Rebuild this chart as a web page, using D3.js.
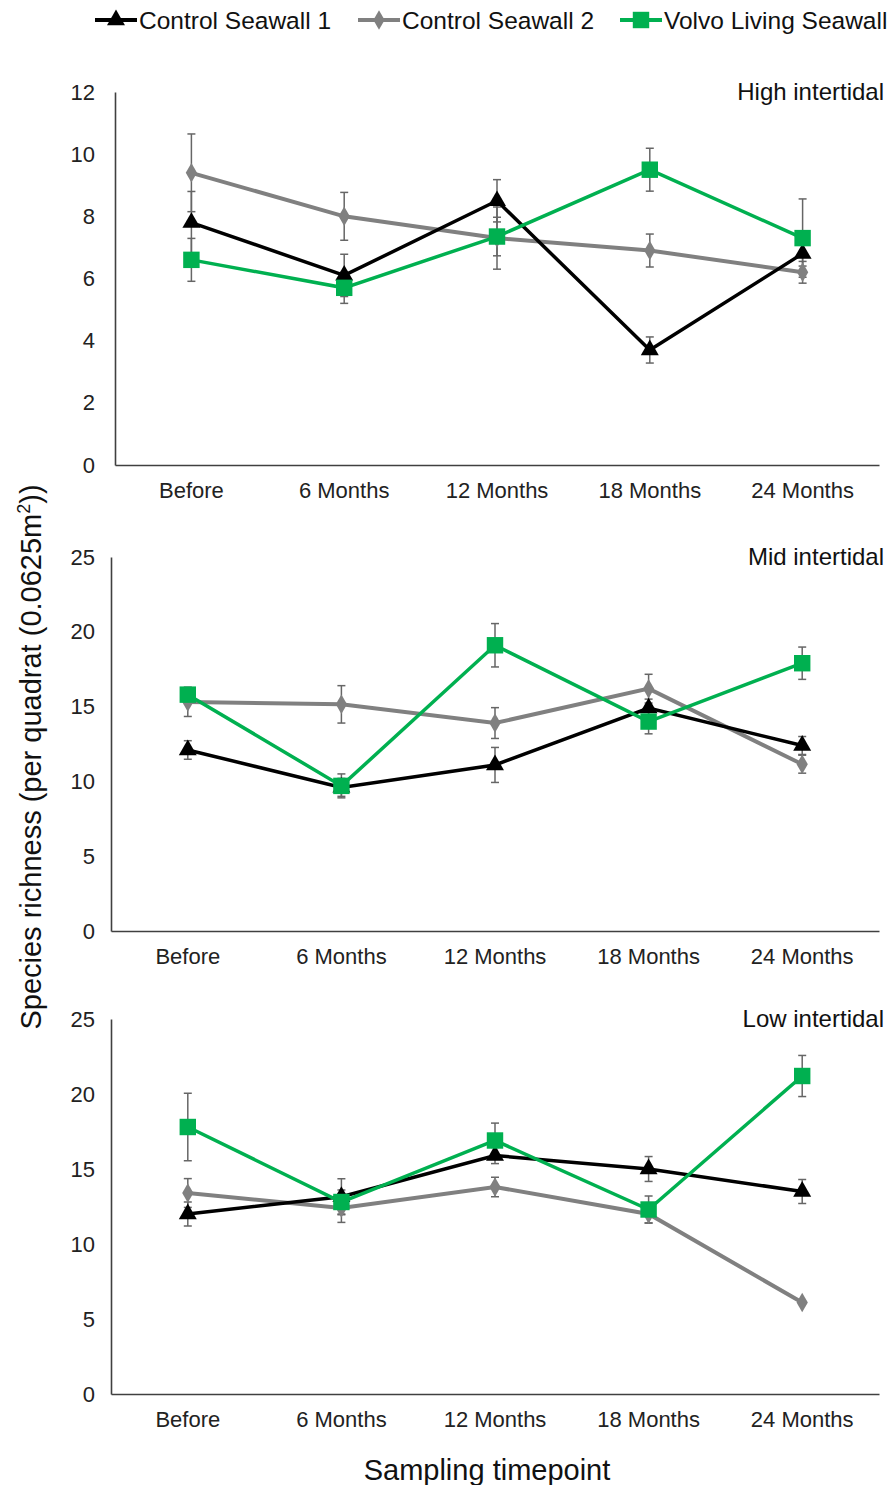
<!DOCTYPE html>
<html>
<head>
<meta charset="utf-8">
<script src="https://cdn.jsdelivr.net/npm/d3@7"></script>
<style>
  body { margin: 0; background: #fff; }
  svg { font-family: "Liberation Sans", Arial, sans-serif; }
</style>
</head>
<body>
<svg id="chart" width="891" height="1485"></svg>
<script>
// sampling timepoints
var categories = ["Before", "6 Months", "12 Months", "18 Months", "24 Months"];
var seriesNames = ["Control Seawall 1", "Control Seawall 2", "Volvo Living Seawall"];

// high intertidal (mean, +/- error)
var cs1High = [7.8, 6.1, 8.5, 3.7, 6.8];
var cs1HighErr = [1.0, 0.68, 0.68, 0.42, 0.4];
var cs2High = [9.4, 8.0, 7.3, 6.9, 6.2];
var cs2HighErr = [1.25, 0.77, 1.0, 0.53, 0.35];
var volvoHigh = [6.6, 5.7, 7.35, 9.5, 7.3];
var volvoHighErr = [0.69, 0.5, 0.62, 0.69, 1.26];

// mid intertidal
var cs1Mid = [12.1, 9.6, 11.1, 14.9, 12.4];
var cs1MidErr = [0.62, 0.6, 1.17, 0.6, 0.6];
var cs2Mid = [15.3, 15.15, 13.9, 16.2, 11.15];
var cs2MidErr = [0.96, 1.25, 1.03, 0.96, 0.6];
var volvoMid = [15.8, 9.7, 19.1, 14.0, 17.9];
var volvoMidErr = [0.5, 0.8, 1.45, 0.82, 1.08];

// low intertidal
var cs1Low = [12.0, 13.15, 15.9, 15.0, 13.5];
var cs1LowErr = [0.8, 1.2, 0.54, 0.83, 0.8];
var cs2Low = [13.4, 12.4, 13.8, 12.0, 6.1];
var cs2LowErr = [0.96, 0.96, 0.65, 0.6, 0.1];
var volvoLow = [17.8, 12.8, 16.9, 12.3, 21.2];
var volvoLowErr = [2.25, 0.8, 1.16, 0.9, 1.37];

var highTicks = [0, 2, 4, 6, 8, 10, 12];
var midTicks = [0, 5, 10, 15, 20, 25];
var lowTicks = [0, 5, 10, 15, 20, 25];

var colors = ["#000000", "#808080", "#00b050"];
var symbols = [d3.symbolTriangle, d3.symbolDiamond, d3.symbolSquare];
var symbolSizes = [140, 110, 270];
var errColor = "#666666";

var svg = d3.select("#chart");

var drawPanel = function(p) {
  var x = d3.scaleBand().domain(categories).range([p.left, 879]);
  var y = d3.scaleLinear().domain([0, d3.max(p.ticks)]).range([p.bottom, p.top]);
  var g = svg.append("g");

  // axes: plain lines, no tick marks
  var yAxis = g.append("g")
    .attr("transform", "translate(" + p.left + ",0)")
    .call(d3.axisLeft(y).tickValues(p.ticks).tickSize(0).tickPadding(p.left - 95));
  var xAxis = g.append("g")
    .attr("transform", "translate(0," + p.bottom + ")")
    .call(d3.axisBottom(x).tickSize(0).tickPadding(17));
  [yAxis, xAxis].forEach(function(a) {
    a.select(".domain").attr("stroke", "#404040").attr("stroke-width", 1.6);
    a.selectAll("text").attr("font-size", 22).attr("fill", "#222")
      .attr("font-family", "Liberation Sans, Arial, sans-serif");
  });

  g.append("text")
    .attr("x", 884).attr("y", p.top + 8)
    .attr("text-anchor", "end")
    .attr("font-size", 24).attr("fill", "#111")
    .text(p.label);

  var cx = function(i) { return x(categories[i]) + x.bandwidth() / 2; };

  // error bars
  p.series.forEach(function(s, si) {
    var eg = g.append("g");
    s.values.forEach(function(v, i) {
      var e = s.err[i];
      var x0 = cx(i);
      eg.append("line")
        .attr("x1", x0).attr("x2", x0)
        .attr("y1", y(v - e)).attr("y2", y(v + e));
      [v - e, v + e].forEach(function(c) {
        eg.append("line")
          .attr("x1", x0 - 4).attr("x2", x0 + 4)
          .attr("y1", y(c)).attr("y2", y(c));
      });
    });
    eg.selectAll("line").attr("stroke", errColor).attr("stroke-width", 1.5);
  });

  // lines and markers, gray first so black and green sit above it
  [1, 0, 2].forEach(function(si) {
    var s = p.series[si];
    var line = d3.line()
      .x(function(d, i) { return cx(i); })
      .y(function(d) { return y(d); });
    g.append("path")
      .datum(s.values)
      .attr("fill", "none")
      .attr("stroke", colors[si])
      .attr("stroke-width", si == 1 ? 4 : 3.5)
      .attr("d", line);
    g.selectAll(".m" + si)
      .data(s.values)
      .enter().append("path")
        .attr("class", "m" + si)
        .attr("transform", function(d, i) { return "translate(" + cx(i) + "," + y(d) + ")"; })
        .attr("fill", colors[si])
        .attr("d", d3.symbol().type(symbols[si]).size(symbolSizes[si]));
  });
};

drawPanel({
  label: "High intertidal", ticks: highTicks, left: 115, top: 92, bottom: 465,
  series: [
    { values: cs1High, err: cs1HighErr },
    { values: cs2High, err: cs2HighErr },
    { values: volvoHigh, err: volvoHighErr }
  ]
});
drawPanel({
  label: "Mid intertidal", ticks: midTicks, left: 111, top: 557, bottom: 931,
  series: [
    { values: cs1Mid, err: cs1MidErr },
    { values: cs2Mid, err: cs2MidErr },
    { values: volvoMid, err: volvoMidErr }
  ]
});
drawPanel({
  label: "Low intertidal", ticks: lowTicks, left: 111, top: 1019, bottom: 1394,
  series: [
    { values: cs1Low, err: cs1LowErr },
    { values: cs2Low, err: cs2LowErr },
    { values: volvoLow, err: volvoLowErr }
  ]
});

// legend
var legendX = [95, 358, 620];
var legend = svg.append("g");
seriesNames.forEach(function(name, i) {
  var lx = legendX[i];
  legend.append("line")
    .attr("x1", lx).attr("x2", lx + 42)
    .attr("y1", 20).attr("y2", 20)
    .attr("stroke", colors[i]).attr("stroke-width", 4);
  legend.append("path")
    .attr("transform", "translate(" + (lx + 21) + ",20)")
    .attr("fill", colors[i])
    .attr("d", d3.symbol().type(symbols[i]).size(symbolSizes[i]));
  legend.append("text")
    .attr("x", lx + 44).attr("y", 29)
    .attr("font-size", 24.5).attr("fill", "#111")
    .text(name);
});

// axis titles
svg.append("text")
  .attr("x", 487).attr("y", 1480)
  .attr("text-anchor", "middle")
  .attr("font-size", 29).attr("fill", "#111")
  .text("Sampling timepoint");

var yTitle = svg.append("text")
  .attr("transform", "translate(41,757) rotate(-90)")
  .attr("text-anchor", "middle")
  .attr("font-size", 29).attr("fill", "#111");
yTitle.append("tspan").text("Species richness (per quadrat (0.0625m");
yTitle.append("tspan").attr("font-size", 18).attr("dy", -11).text("2");
yTitle.append("tspan").attr("dy", 11).text("))");
</script>
</body>
</html>
